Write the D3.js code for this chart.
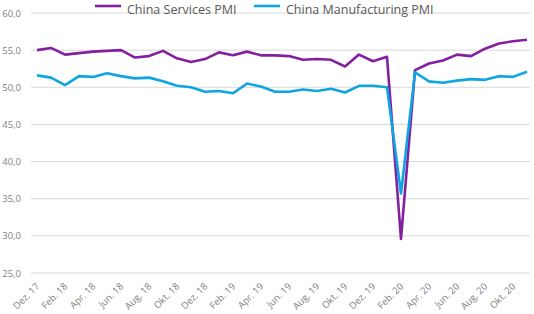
<!DOCTYPE html>
<html>
<head>
<meta charset="utf-8">
<script src="https://cdn.jsdelivr.net/npm/d3@7"></script>
<style>
  body { margin: 0; background: #fff; }
  text { font-family: "Open Sans", sans-serif; }
</style>
</head>
<body>
<script>
// -------------------- DATA --------------------
var months = ["Dez. 17", "Jan. 18", "Feb. 18", "Mär. 18", "Apr. 18", "Mai. 18", "Jun. 18", "Jul. 18",
  "Aug. 18", "Sep. 18", "Okt. 18", "Nov. 18", "Dez. 18", "Jan. 19", "Feb. 19", "Mär. 19",
  "Apr. 19", "Mai. 19", "Jun. 19", "Jul. 19", "Aug. 19", "Sep. 19", "Okt. 19", "Nov. 19",
  "Dez. 19", "Jan. 20", "Feb. 20", "Mär. 20", "Apr. 20", "Mai. 20", "Jun. 20", "Jul. 20",
  "Aug. 20", "Sep. 20", "Okt. 20", "Nov. 20"];

var services = [55.0, 55.3, 54.4, 54.6, 54.8, 54.9, 55.0, 54.0, 54.2, 54.9, 53.9, 53.4,
  53.8, 54.7, 54.3, 54.8, 54.3, 54.3, 54.2, 53.7, 53.8, 53.7, 52.8, 54.4,
  53.5, 54.1, 29.6, 52.3, 53.2, 53.6, 54.4, 54.2, 55.2, 55.9, 56.2, 56.4];

var manufacturing = [51.6, 51.3, 50.3, 51.5, 51.4, 51.9, 51.5, 51.2, 51.3, 50.8, 50.2, 50.0,
  49.4, 49.5, 49.2, 50.5, 50.1, 49.4, 49.4, 49.7, 49.5, 49.8, 49.3, 50.2,
  50.2, 50.0, 35.7, 52.0, 50.8, 50.6, 50.9, 51.1, 51.0, 51.5, 51.4, 52.1];

var yTicks = [25, 30, 35, 40, 45, 50, 55, 60];
var seriesNames = ["China Services PMI", "China Manufacturing PMI"];

// -------------------- DIMENSIONS --------------------
var w = 534, h = 314;
var margin = { top: 13, right: 4, bottom: 41, left: 31 };
var innerW = w - margin.left - margin.right;
var innerH = h - margin.top - margin.bottom;

var colors = ["#8420a0", "#0ea5e0"];

var svg = d3.select("body").append("svg")
  .attr("width", w)
  .attr("height", h);

var g = svg.append("g")
  .attr("transform", "translate(" + margin.left + "," + margin.top + ")");

// -------------------- SCALES --------------------
var x = d3.scalePoint()
  .domain(months)
  .range([6, innerW - 3]);

var y = d3.scaleLinear()
  .domain([25, 60])
  .range([innerH, 0]);

// gridlines
g.selectAll("line.grid")
  .data(yTicks)
  .enter()
  .append("line")
  .attr("class", "grid")
  .attr("x1", 0)
  .attr("x2", innerW)
  .attr("y1", function(d){ return y(d); })
  .attr("y2", function(d){ return y(d); })
  .attr("stroke", "#d9d9d9")
  .attr("stroke-width", 1);

// y labels
g.selectAll("text.ylab")
  .data(yTicks)
  .enter()
  .append("text")
  .attr("class", "ylab")
  .attr("x", -10)
  .attr("y", function(d){ return y(d) + 3.5; })
  .attr("text-anchor", "end")
  .attr("font-size", "9.5px")
  .attr("fill", "#7f7f7f")
  .text(function(d){ return d3.format(".1f")(d).replace(".", ","); });

// x labels (every second month)
g.selectAll("text.xlab")
  .data(months.filter(function(d, i){ return i % 2 === 0; }))
  .enter()
  .append("text")
  .attr("class", "xlab")
  .attr("transform", function(d){
    return "translate(" + (x(d) + 3) + "," + (innerH + 14) + ") rotate(-45)";
  })
  .attr("text-anchor", "end")
  .attr("font-size", "9.5px")
  .attr("fill", "#7f7f7f")
  .text(function(d){ return d; });

// -------------------- LINES --------------------
var line = d3.line()
  .x(function(d, i){ return x(months[i]); })
  .y(function(d){ return y(d); });

[services, manufacturing].forEach(function(s, k) {
  g.append("path")
    .datum(s)
    .attr("d", line)
    .attr("fill", "none")
    .attr("stroke", colors[k])
    .attr("stroke-width", 2.6)
    .attr("stroke-linejoin", "round");
});

// -------------------- LEGEND --------------------
var legendX = [95, 254];
var leg = svg.selectAll("g.leg")
  .data(seriesNames)
  .enter()
  .append("g")
  .attr("class", "leg")
  .attr("transform", function(d, i){ return "translate(" + legendX[i] + ",6)"; });

leg.append("line")
  .attr("x1", 0).attr("x2", 26)
  .attr("y1", 0).attr("y2", 0)
  .attr("stroke", function(d, i){ return colors[i]; })
  .attr("stroke-width", 2.6);

leg.append("text")
  .attr("x", 32)
  .attr("y", 7.5)
  .attr("font-size", "12.5px")
  .attr("fill", "#595959")
  .text(function(d){ return d; });
</script>
</body>
</html>
